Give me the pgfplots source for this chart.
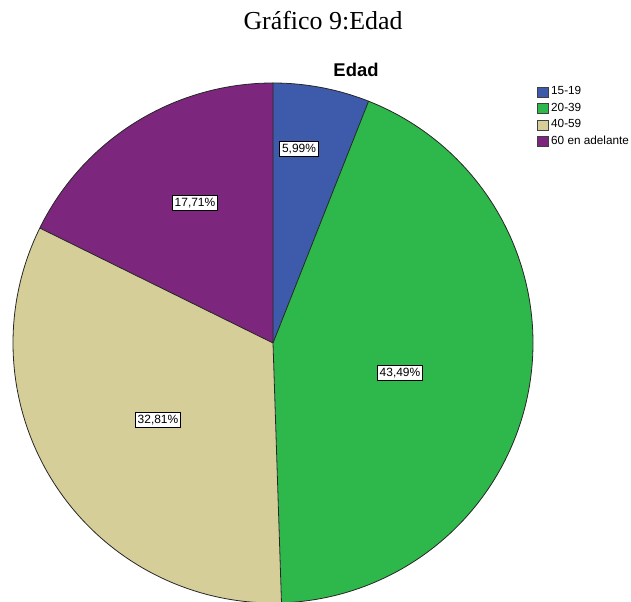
\documentclass[border=0pt]{standalone}
\usepackage{fontspec}
\setmainfont{Liberation Sans}
\newfontfamily\seriffont{Liberation Serif}
\usepackage{pgfplots}
\pgfplotsset{compat=1.18}
\definecolor{cBlue}{HTML}{3E5AAA}
\definecolor{cGreen}{HTML}{2EB84B}
\definecolor{cTan}{HTML}{D5CE98}
\definecolor{cPurple}{HTML}{7C277D}
% wedge: #1 style, #2 start percent, #3 end percent
\newcommand\pieWedge[3]{%
  \addplot[#1, domain={#2-0.5}:{#3}, samples=260, variable=\t]
    ({273+ifthenelse(\t<#2-0.25,0,260)*sin(3.6*max(\t,#2))},
     {259+ifthenelse(\t<#2-0.25,0,260)*cos(3.6*max(\t,#2))});
}
\begin{document}
\begin{tikzpicture}
\begin{axis}[
  hide axis, scale only axis,
  width=631bp, height=602bp,
  xmin=0, xmax=631, ymin=0, ymax=602,
  legend image code/.code={\draw[#1, draw=black!75, line width=0.5bp] (0bp,-5bp) rectangle (11bp,5bp);},
  legend style={at={(0.851,0.859)}, anchor=north west, draw=none, fill=none,
    inner sep=0pt, row sep=3.1bp, font=\fontsize{11.8}{12}\selectfont,
    nodes={inner xsep=2.5bp, inner ysep=1.5bp, text height=8bp, text depth=2.5bp}},
  legend cell align=left,
]
% data: 15-19: 5.99, 20-39: 43.49, 40-59: 32.81, 60 en adelante: 17.71 (cumulative bounds)
\pieWedge{fill=cBlue, draw=none}{0}{5.99}
\addlegendentry{15-19}
\pieWedge{fill=cGreen, draw=none}{5.99}{49.48}
\addlegendentry{20-39}
\pieWedge{fill=cTan, draw=none}{49.48}{82.29}
\addlegendentry{40-59}
\pieWedge{fill=cPurple, draw=none}{82.29}{100}
\addlegendentry{60 en adelante}
\pieWedge{draw=black!85, line width=0.8bp, fill=none, forget plot}{0}{5.99}
\pieWedge{draw=black!85, line width=0.8bp, fill=none, forget plot}{5.99}{49.48}
\pieWedge{draw=black!85, line width=0.8bp, fill=none, forget plot}{49.48}{82.29}
\pieWedge{draw=black!85, line width=0.8bp, fill=none, forget plot}{82.29}{100}
\tikzset{lbl/.style={draw=black, fill=white, line width=0.7bp, inner xsep=2.3bp, inner ysep=2.5bp, font=\fontsize{12}{14}\selectfont}}
\node[lbl] at (axis cs:299,453) {5,99\%};
\node[lbl] at (axis cs:400,229) {43,49\%};
\node[lbl] at (axis cs:158,182) {32,81\%};
\node[lbl] at (axis cs:195,399) {17,71\%};
\node[font=\seriffont\fontsize{26}{30}\selectfont, anchor=base] at (axis cs:323,572) {Gráfico 9:Edad};
\node[font=\bfseries\fontsize{18.5}{20}\selectfont, anchor=base] at (axis cs:356,525) {Edad};
\end{axis}
\pgfresetboundingbox
\path[use as bounding box] (current axis.south west) rectangle (current axis.north east);
\end{tikzpicture}
\end{document}
